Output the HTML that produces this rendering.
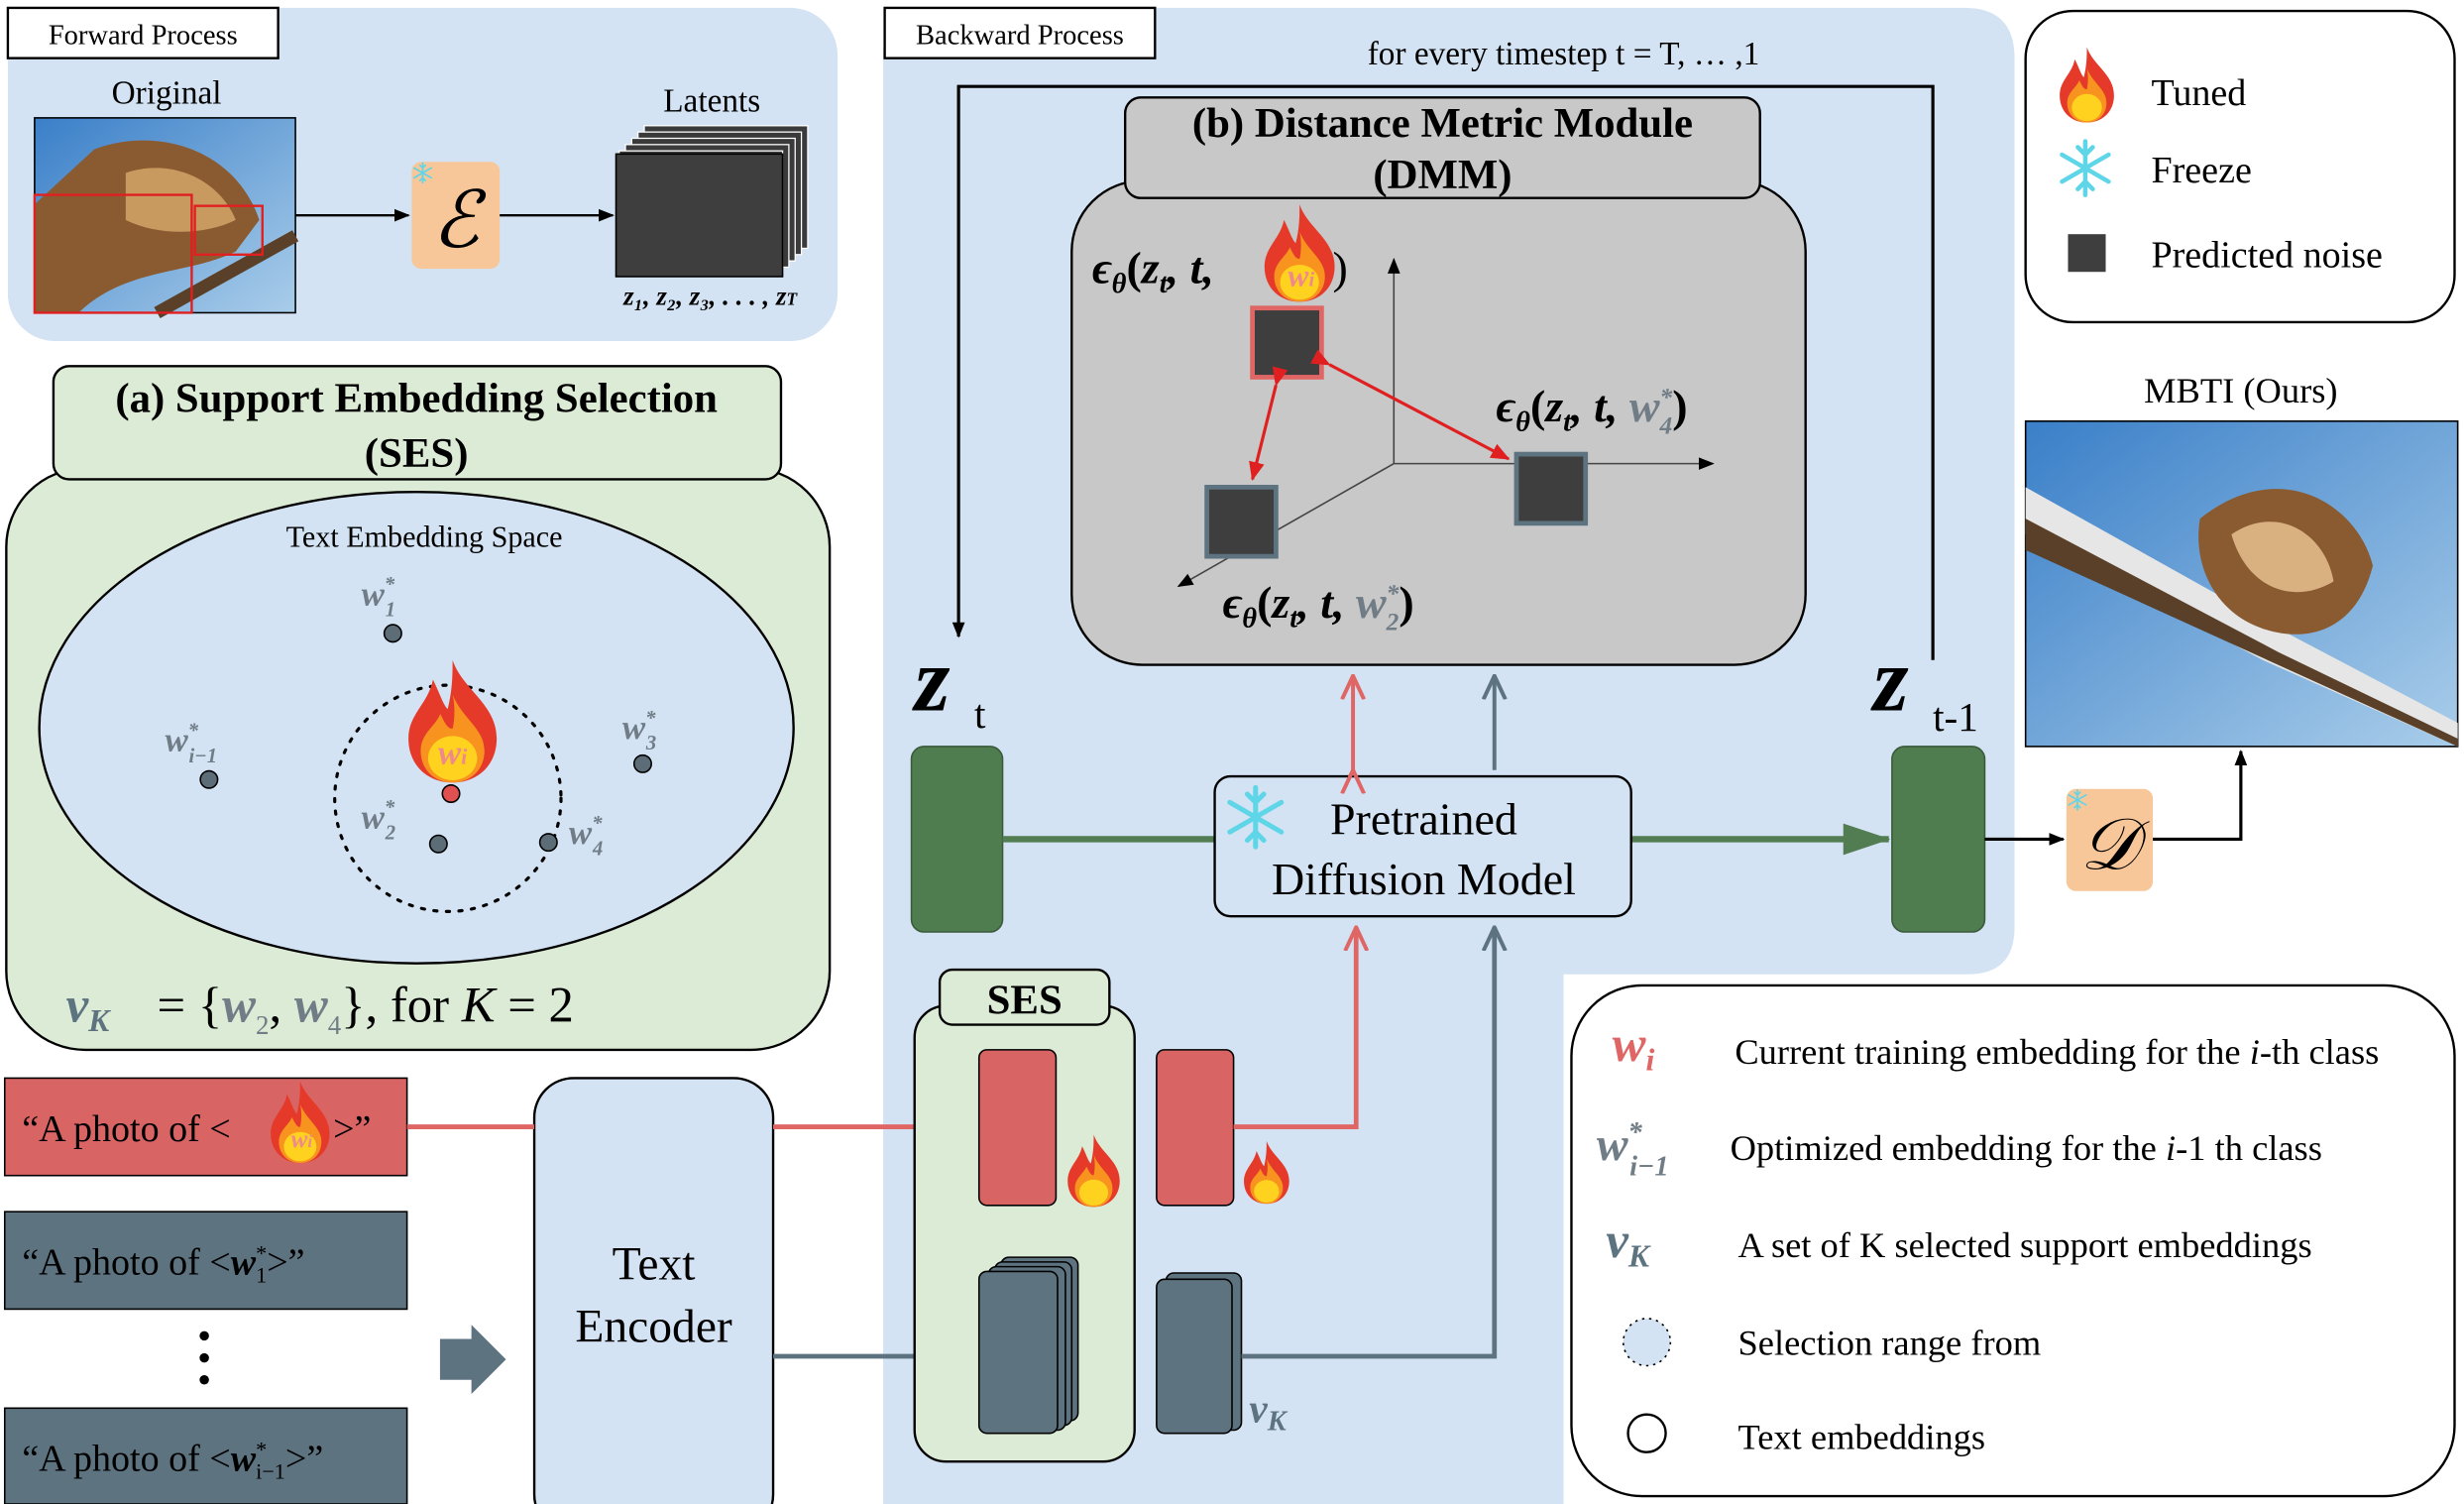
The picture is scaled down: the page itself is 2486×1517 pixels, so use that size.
<!DOCTYPE html>
<html><head><meta charset="utf-8"><style>
html,body{margin:0;padding:0;background:#fff;}
svg{display:block;}
text{font-family:"Liberation Serif",serif;}
</style></head><body>
<svg width="2486" height="1517" viewBox="0 0 1568 957" preserveAspectRatio="none" xmlns="http://www.w3.org/2000/svg">
<defs>
<symbol id="fire" viewBox="0 0 40 50">
<path d="M20 0 C24 12 38 18 38 32 C38 43 30 50 20 50 C10 50 2 43 2 32 C2 22 10 18 12 8 C15 14 16 18 18 20 C20 12 20 6 20 0Z" fill="#e53a2a"/>
<path d="M20 14 C24 24 33 28 33 37 C33 45 27 50 20 50 C13 50 7 45 7 37 C7 30 13 27 15 22 C17 26 18 28 20 28 C21 24 21 18 20 14Z" fill="#f7931e"/>
<ellipse cx="20" cy="40" rx="10" ry="9" fill="#ffd21f"/>
</symbol>
<symbol id="snow" viewBox="-20 -20 40 40">
<g stroke="#5fd5e8" stroke-width="3" stroke-linecap="round">
<line x1="0" y1="-18" x2="0" y2="18"/><line x1="-15.6" y1="-9" x2="15.6" y2="9"/><line x1="-15.6" y1="9" x2="15.6" y2="-9"/>
<path d="M-5 -14 L0 -9 L5 -14 M-5 14 L0 9 L5 14" fill="none"/>
</g>
</symbol>
<marker id="ab" markerWidth="10" markerHeight="10" refX="9" refY="5" orient="auto" markerUnits="userSpaceOnUse"><path d="M0 1 L10 5 L0 9Z" fill="#000"/></marker>
<marker id="ar" markerWidth="12" markerHeight="12" refX="11" refY="6" orient="auto" markerUnits="userSpaceOnUse"><path d="M0 1 L12 6 L0 11Z" fill="#e02020"/></marker>
<marker id="ag" markerWidth="30" markerHeight="24" refX="29" refY="12" orient="auto" markerUnits="userSpaceOnUse"><path d="M0 2 L30 12 L0 22Z" fill="#527d52"/></marker>
<marker id="arh" markerWidth="16" markerHeight="20" refX="15" refY="8" orient="auto" markerUnits="userSpaceOnUse"><path d="M0 1 L15 8 L0 15" fill="none" stroke="#e06666" stroke-width="2.5"/></marker>
<marker id="agh" markerWidth="16" markerHeight="20" refX="15" refY="8" orient="auto" markerUnits="userSpaceOnUse"><path d="M0 1 L15 8 L0 15" fill="none" stroke="#5d7380" stroke-width="2.5"/></marker>
<linearGradient id="sky" x1="0" y1="0" x2="1" y2="1"><stop offset="0" stop-color="#3a7fc8"/><stop offset="1" stop-color="#a9cdea"/></linearGradient>
</defs>

<!-- Forward process -->
<rect x="5" y="5" width="528" height="212" rx="30" fill="#d3e3f3"/>
<rect x="5" y="5" width="172" height="32" fill="#fff" stroke="#000" stroke-width="1.5"/>
<text x="91" y="28" font-size="18" text-anchor="middle">Forward Process</text>
<text x="106" y="66" font-size="21" text-anchor="middle">Original</text>
<rect x="22" y="75" width="166" height="124" fill="url(#sky)" stroke="#000"/>
<path d="M60 95 C100 80 150 95 165 140 L150 160 C120 175 80 170 50 199 L22 199 L22 130 Z" fill="#8a5a30"/>
<path d="M80 110 C110 100 140 115 150 140 C130 150 100 150 80 140Z" fill="#c99a60"/>
<line x1="100" y1="199" x2="188" y2="150" stroke="#5a4028" stroke-width="8"/>
<rect x="22" y="124" width="100" height="75" fill="none" stroke="#e02020" stroke-width="1.5"/>
<rect x="124" y="131" width="43" height="31" fill="none" stroke="#e02020" stroke-width="1.5"/>
<line x1="188" y1="137" x2="260" y2="137" stroke="#000" stroke-width="1.5" marker-end="url(#ab)"/>
<rect x="262" y="103" width="56" height="68" rx="6" fill="#f7c79a"/>
<use href="#snow" x="262" y="103" width="14" height="14"/>
<text x="290" y="157" font-size="50" text-anchor="middle" font-style="italic">ℰ</text>
<line x1="318" y1="137" x2="390" y2="137" stroke="#000" stroke-width="1.5" marker-end="url(#ab)"/>
<text x="453" y="71" font-size="21" text-anchor="middle">Latents</text>
<g stroke="#fff" stroke-width="0.8" fill="#3a3a3a">
<rect x="410" y="80" width="104" height="78"/><rect x="406" y="84" width="104" height="78"/><rect x="402" y="88" width="104" height="78"/><rect x="398" y="92" width="104" height="78"/><rect x="394" y="96" width="104" height="78"/>
</g>
<rect x="392" y="98" width="106" height="78" fill="#3e3e3e" stroke="#000"/>
<text x="452" y="194" font-size="17" text-anchor="middle" font-style="italic" font-weight="bold">z₁, z₂, z₃, . . . , z<tspan font-size="11">T</tspan></text>

<!-- SES panel -->
<rect x="4" y="298" width="524" height="370" rx="50" fill="#dcebd5" stroke="#000" stroke-width="1.5"/>
<rect x="34" y="233" width="463" height="72" rx="10" fill="#dcebd5" stroke="#000" stroke-width="1.5"/>
<text x="265" y="262" font-size="27" font-weight="bold" text-anchor="middle">(a) Support Embedding Selection</text>
<text x="265" y="297" font-size="27" font-weight="bold" text-anchor="middle">(SES)</text>
<ellipse cx="265" cy="463" rx="240" ry="150" fill="#d3e3f3" stroke="#000" stroke-width="1.5"/>
<text x="270" y="348" font-size="19" text-anchor="middle">Text Embedding Space</text>
<circle cx="285" cy="508" r="72" fill="none" stroke="#000" stroke-width="2" stroke-dasharray="2 6" stroke-linecap="round"/>
<g fill="#5d6d78" stroke="#000" stroke-width="1">
<circle cx="250" cy="403" r="5.5"/><circle cx="133" cy="496" r="5.5"/><circle cx="409" cy="486" r="5.5"/><circle cx="279" cy="537" r="5.5"/><circle cx="349" cy="536" r="5.5"/>
</g>
<circle cx="287" cy="505" r="5.5" fill="#e05050" stroke="#000"/>
<use href="#fire" x="256" y="420" width="64" height="78"/>
<text x="288" y="486" font-size="22" font-style="italic" font-weight="bold" fill="#f08a8a" text-anchor="middle">w<tspan font-size="14">i</tspan></text>
<g font-size="22" font-style="italic" font-weight="bold">
<text x="230" y="385" fill="#707c86">w<tspan font-size="13" dy="-9">*</tspan><tspan font-size="13" dx="-6" dy="16">1</tspan></text>
<text x="105" y="478" fill="#707c86">w<tspan font-size="13" dy="-9">*</tspan><tspan font-size="13" dx="-6" dy="16">i−1</tspan></text>
<text x="396" y="470" fill="#707c86">w<tspan font-size="13" dy="-9">*</tspan><tspan font-size="13" dx="-6" dy="16">3</tspan></text>
<text x="230" y="527" fill="#707c86">w<tspan font-size="13" dy="-9">*</tspan><tspan font-size="13" dx="-6" dy="16">2</tspan></text>
<text x="362" y="537" fill="#707c86">w<tspan font-size="13" dy="-9">*</tspan><tspan font-size="13" dx="-6" dy="16">4</tspan></text>
</g>
<text x="42" y="650" font-size="32" font-style="italic" fill="#5d7380" font-weight="bold">v<tspan font-size="20" dy="6">K</tspan></text>
<text x="100" y="650" font-size="32">= {<tspan font-style="italic" font-weight="bold" fill="#707c86">w</tspan><tspan font-size="17" fill="#707c86" dy="8">2</tspan><tspan dy="-8">, </tspan><tspan font-style="italic" font-weight="bold" fill="#707c86">w</tspan><tspan font-size="17" fill="#707c86" dy="8">4</tspan><tspan dy="-8">},    for </tspan><tspan font-style="italic">K</tspan> = 2</text>

<!-- Backward panel -->
<path d="M592 5 L1250 5 Q1282 5 1282 37 L1282 590 Q1282 620 1252 620 L995 620 L995 957 L562 957 L562 35 Q562 5 592 5Z" fill="#d3e3f3"/>
<rect x="563" y="5" width="172" height="32" fill="#fff" stroke="#000" stroke-width="1.5"/>
<text x="649" y="28" font-size="18" text-anchor="middle">Backward Process</text>
<text x="995" y="41" font-size="21" text-anchor="middle">for every timestep t = T, … ,1</text>
<path d="M1230 420 L1230 55 L610 55 L610 405" fill="none" stroke="#000" stroke-width="2" marker-end="url(#ab)"/>

<!-- DMM -->
<rect x="682" y="115" width="467" height="308" rx="45" fill="#c8c8c8" stroke="#000" stroke-width="1.5"/>
<rect x="716" y="62" width="404" height="64" rx="10" fill="#c8c8c8" stroke="#000" stroke-width="1.5"/>
<text x="918" y="87" font-size="27" font-weight="bold" text-anchor="middle">(b) Distance Metric Module</text>
<text x="918" y="120" font-size="27" font-weight="bold" text-anchor="middle">(DMM)</text>
<g stroke="#444" stroke-width="1" fill="none">
<line x1="887" y1="295" x2="887" y2="165" marker-end="url(#ab)"/>
<line x1="887" y1="295" x2="1090" y2="295" marker-end="url(#ab)"/>
<line x1="887" y1="295" x2="750" y2="373" marker-end="url(#ab)"/>
</g>
<rect x="797" y="196" width="44" height="44" fill="#3e3e3e" stroke="#e06666" stroke-width="3"/>
<rect x="768" y="310" width="44" height="44" fill="#3e3e3e" stroke="#5d7380" stroke-width="3"/>
<rect x="965" y="289" width="44" height="44" fill="#3e3e3e" stroke="#5d7380" stroke-width="3"/>
<line x1="812" y1="245" x2="797" y2="305" stroke="#e02020" stroke-width="2" marker-end="url(#ar)" marker-start="url(#ar)"/>
<line x1="846" y1="232" x2="960" y2="292" stroke="#e02020" stroke-width="2" marker-end="url(#ar)" marker-start="url(#ar)"/>
<text x="695" y="180" font-size="29" font-style="italic" font-weight="bold">ϵ<tspan font-size="18" dy="6">θ</tspan><tspan dy="-6" font-style="normal">(</tspan>z<tspan font-size="18" dy="6">t</tspan><tspan dy="-6">, t,</tspan></text>
<use href="#fire" x="802" y="130" width="50" height="62"/>
<text x="828" y="182" font-size="20" font-style="italic" font-weight="bold" fill="#f08a8a" text-anchor="middle">w<tspan font-size="13">i</tspan></text>
<text x="848" y="180" font-size="29">)</text>
<text x="952" y="268" font-size="29" font-style="italic" font-weight="bold">ϵ<tspan font-size="18" dy="6">θ</tspan><tspan dy="-6" font-style="normal">(</tspan>z<tspan font-size="18" dy="6">t</tspan><tspan dy="-6">, t, </tspan><tspan fill="#707c86">w</tspan><tspan font-size="16" fill="#707c86" dy="-10">*</tspan><tspan font-size="16" fill="#707c86" dx="-8" dy="18">4</tspan><tspan dy="-8" font-style="normal">)</tspan></text>
<text x="778" y="393" font-size="29" font-style="italic" font-weight="bold">ϵ<tspan font-size="18" dy="6">θ</tspan><tspan dy="-6" font-style="normal">(</tspan>z<tspan font-size="18" dy="6">t</tspan><tspan dy="-6">, t, </tspan><tspan fill="#707c86">w</tspan><tspan font-size="16" fill="#707c86" dy="-10">*</tspan><tspan font-size="16" fill="#707c86" dx="-8" dy="18">2</tspan><tspan dy="-8" font-style="normal">)</tspan></text>

<!-- z_t, z_t-1 -->
<text x="582" y="452" font-size="58" font-style="italic" font-weight="bold">z</text>
<text x="620" y="463" font-size="26">t</text>
<text x="1192" y="452" font-size="58" font-style="italic" font-weight="bold">z</text>
<text x="1230" y="465" font-size="26">t-1</text>
<rect x="580" y="475" width="58" height="118" rx="8" fill="#4f7d4f" stroke="#3a5a3a"/>
<rect x="1204" y="475" width="59" height="118" rx="8" fill="#4f7d4f" stroke="#3a5a3a"/>
<line x1="638" y1="534" x2="773" y2="534" stroke="#527d52" stroke-width="4"/>
<line x1="1038" y1="534" x2="1202" y2="534" stroke="#527d52" stroke-width="4" marker-end="url(#ag)"/>
<rect x="773" y="494" width="265" height="89" rx="10" fill="#d3e3f3" stroke="#000" stroke-width="1.5"/>
<use href="#snow" x="778" y="499" width="42" height="42"/>
<text x="906" y="531" font-size="29" text-anchor="middle">Pretrained</text>
<text x="906" y="569" font-size="29" text-anchor="middle">Diffusion Model</text>
<line x1="861" y1="490" x2="861" y2="430" stroke="#e06666" stroke-width="2.5" marker-end="url(#arh)" marker-start="url(#arh)"/>
<line x1="951" y1="490" x2="951" y2="430" stroke="#5d7380" stroke-width="2.5" marker-end="url(#agh)"/>
<line x1="1263" y1="534" x2="1313" y2="534" stroke="#000" stroke-width="2" marker-end="url(#ab)"/>
<rect x="1315" y="502" width="55" height="65" rx="6" fill="#f7c79a"/>
<use href="#snow" x="1315" y="502" width="14" height="14"/>
<text x="1342" y="553" font-size="46" text-anchor="middle" font-style="italic">𝒟</text>
<path d="M1370 534 L1426 534 L1426 478" fill="none" stroke="#000" stroke-width="2" marker-end="url(#ab)"/>

<!-- Legend top -->
<rect x="1289" y="7" width="273" height="198" rx="30" fill="#fff" stroke="#000" stroke-width="1.5"/>
<use href="#fire" x="1308" y="30" width="40" height="48"/>
<text x="1369" y="67" font-size="24">Tuned</text>
<use href="#snow" x="1308" y="88" width="38" height="38"/>
<text x="1369" y="116" font-size="24">Freeze</text>
<rect x="1316" y="149" width="24" height="24" fill="#3e3e3e"/>
<text x="1369" y="170" font-size="24">Predicted noise</text>
<text x="1426" y="256" font-size="23" text-anchor="middle">MBTI (Ours)</text>
<rect x="1289" y="268" width="275" height="207" fill="url(#sky)" stroke="#000"/>
<path d="M1289 310 L1450 400 L1564 460 L1564 475 L1440 420 L1289 340Z" fill="#e6e6e6"/>
<path d="M1289 330 L1450 415 L1564 470 L1564 475 L1289 350Z" fill="#5a4028"/>
<path d="M1400 330 C1450 290 1500 320 1510 360 C1500 400 1470 410 1440 400 C1410 390 1395 360 1400 330Z" fill="#8a5a30"/>
<path d="M1420 340 C1450 320 1480 340 1485 370 C1460 385 1430 375 1420 340Z" fill="#d9b080"/>

<!-- Legend bottom -->
<rect x="1000" y="627" width="562" height="325" rx="45" fill="#fff" stroke="#000" stroke-width="1.5"/>
<text x="1026" y="675" font-size="32" font-style="italic" font-weight="bold" fill="#e06666">w<tspan font-size="20" dy="6">i</tspan></text>
<text x="1104" y="677" font-size="23">Current training embedding for the <tspan font-style="italic">i</tspan>-th class</text>
<text x="1016" y="738" font-size="30" font-style="italic" font-weight="bold" fill="#707c86">w<tspan font-size="18" dy="-12">*</tspan><tspan font-size="18" dx="-8" dy="22">i−1</tspan></text>
<text x="1101" y="738" font-size="23">Optimized embedding for the <tspan font-style="italic">i</tspan>-1 th class</text>
<text x="1022" y="800" font-size="32" font-style="italic" font-weight="bold" fill="#5d7380">v<tspan font-size="20" dy="6">K</tspan></text>
<text x="1106" y="800" font-size="23">A set of K selected support embeddings</text>
<circle cx="1048" cy="854" r="15" fill="#d3e3f3" stroke="#000" stroke-dasharray="1.5 3"/>
<text x="1106" y="862" font-size="23">Selection range from</text>
<circle cx="1048" cy="912" r="12" fill="#fff" stroke="#000" stroke-width="1.5"/>
<text x="1106" y="922" font-size="23">Text embeddings</text>

<!-- Prompts -->
<rect x="3" y="686" width="256" height="62" fill="#d96464" stroke="#000"/>
<text x="14" y="726" font-size="24">“A photo of &lt;</text>
<use href="#fire" x="170" y="688" width="42" height="52"/>
<text x="192" y="730" font-size="16" font-style="italic" font-weight="bold" fill="#f08a8a" text-anchor="middle">w<tspan font-size="11">i</tspan></text>
<text x="212" y="726" font-size="24">&gt;”</text>
<rect x="3" y="771" width="256" height="62" fill="#5d7380" stroke="#000"/>
<text x="14" y="811" font-size="24">“A photo of &lt;<tspan font-style="italic" font-weight="bold">w</tspan><tspan font-size="14" dy="-9">*</tspan><tspan font-size="14" dx="-7" dy="14">1</tspan><tspan dy="-5">&gt;”</tspan></text>
<circle cx="130" cy="850" r="3"/><circle cx="130" cy="864" r="3"/><circle cx="130" cy="878" r="3"/>
<rect x="3" y="896" width="256" height="61" fill="#5d7380" stroke="#000"/>
<text x="14" y="936" font-size="24">“A photo of &lt;<tspan font-style="italic" font-weight="bold">w</tspan><tspan font-size="14" dy="-9">*</tspan><tspan font-size="14" dx="-7" dy="14">i−1</tspan><tspan dy="-5">&gt;”</tspan></text>
<path d="M280 852 L300 852 L300 843 L322 865 L300 887 L300 878 L280 878Z" fill="#5d7380"/>
<rect x="340" y="686" width="152" height="290" rx="25" fill="#d3e3f3" stroke="#000" stroke-width="1.5"/>
<text x="416" y="814" font-size="30" text-anchor="middle">Text</text>
<text x="416" y="854" font-size="30" text-anchor="middle">Encoder</text>
<line x1="259" y1="717" x2="340" y2="717" stroke="#e06666" stroke-width="3"/>
<line x1="492" y1="717" x2="623" y2="717" stroke="#e06666" stroke-width="3"/>
<line x1="492" y1="863" x2="623" y2="863" stroke="#5d7380" stroke-width="3"/>

<!-- SES small -->
<rect x="582" y="640" width="140" height="290" rx="20" fill="#dcebd5" stroke="#000" stroke-width="1.5"/>
<rect x="598" y="617" width="108" height="35" rx="8" fill="#dcebd5" stroke="#000" stroke-width="1.5"/>
<text x="652" y="645" font-size="27" font-weight="bold" text-anchor="middle">SES</text>
<rect x="623" y="668" width="49" height="99" rx="5" fill="#d96464" stroke="#000"/>
<rect x="736" y="668" width="49" height="99" rx="5" fill="#d96464" stroke="#000"/>
<use href="#fire" x="674" y="722" width="44" height="46"/>
<use href="#fire" x="787" y="726" width="38" height="40"/>
<g fill="#5d7380" stroke="#000">
<rect x="637" y="800" width="49" height="104" rx="5"/><rect x="633" y="803" width="49" height="104" rx="5"/><rect x="629" y="806" width="49" height="104" rx="5"/><rect x="623" y="809" width="50" height="103" rx="5"/>
<rect x="742" y="810" width="48" height="100" rx="5"/><rect x="736" y="814" width="48" height="98" rx="5"/>
</g>
<text x="795" y="905" font-size="26" font-style="italic" font-weight="bold" fill="#5d7380">v<tspan font-size="18" dy="5">K</tspan></text>
<path d="M785 717 L863 717 L863 590" fill="none" stroke="#e06666" stroke-width="3" marker-end="url(#arh)"/>
<path d="M790 863 L951 863 L951 590" fill="none" stroke="#5d7380" stroke-width="3" marker-end="url(#agh)"/>
</svg>
</body></html>
